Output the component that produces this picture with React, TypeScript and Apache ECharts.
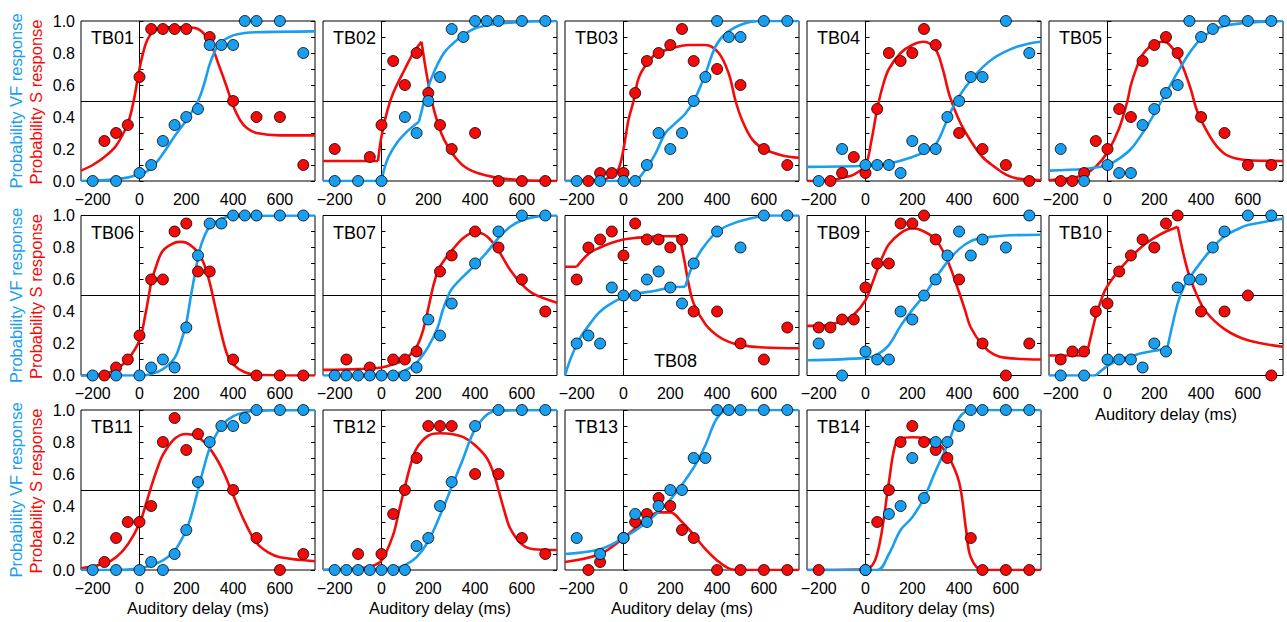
import React, { useEffect, useRef } from "react";
import * as echarts from "echarts";

type P = [number, number];

const X_LABELS = [-200, 0, 200, 400, 600];
const Y_LABELS = [0, 0.2, 0.4, 0.6, 0.8, 1.0];
const X_TITLE = "Auditory delay (ms)";
const VF_TITLE = "Probability VF response";
const S_TITLE = "Probability S response";

// ---- TB01
const TB01_S: P[] = [[-150,0.25],[-100,0.30],[-50,0.35],[0,0.65],[50,0.95],[100,0.95],[150,0.95],[200,0.95],[300,0.90],[400,0.50],[500,0.40],[600,0.40],[700,0.10]];
const TB01_VF: P[] = [[-200,0],[-100,0],[0,0.05],[50,0.10],[100,0.25],[150,0.35],[200,0.40],[250,0.45],[300,0.85],[350,0.85],[400,0.85],[450,1],[500,1],[600,1],[700,0.80]];
const TB01_S_FIT: P[][] = [[[-250,0.065],[-200,0.10],[-150,0.15],[-100,0.22],[-50,0.36],[-25,0.5],[0,0.7],[25,0.85],[50,0.92],[100,0.96],[200,0.96],[250,0.95],[300,0.87],[340,0.72],[370,0.6],[400,0.47],[430,0.38],[460,0.33],[500,0.30],[600,0.285],[750,0.285]]];
const TB01_VF_FIT: P[][] = [[[-250,0],[-100,0.01],[0,0.04],[50,0.08],[100,0.17],[150,0.28],[200,0.38],[250,0.50],[275,0.60],[300,0.73],[325,0.82],[350,0.87],[400,0.91],[450,0.925],[500,0.93],[750,0.935]]];

// ---- TB02
const TB02_S: P[] = [[-200,0.20],[-50,0.15],[0,0.35],[50,0.75],[100,0.60],[150,0.80],[200,0.55],[250,0.35],[300,0.20],[400,0.30],[500,0],[600,0],[700,0]];
const TB02_VF: P[] = [[-200,0],[-100,0],[0,0],[100,0.40],[150,0.30],[200,0.50],[250,0.65],[300,0.95],[350,0.90],[400,1],[450,1],[500,1],[600,1],[700,1]];
const TB02_S_FIT: P[][] = [[[-250,0.125],[-15,0.125]],[[-15,0.125],[0,0.28],[25,0.44],[50,0.55],[100,0.70],[140,0.81],[171,0.87]],[[171,0.87],[195,0.65],[225,0.44],[267,0.26],[338,0.11],[410,0.05],[550,0.01],[750,0]]];
const TB02_VF_FIT: P[][] = [[[-250,0],[0,0]],[[0,0],[24,0.13],[67,0.24],[110,0.31],[160,0.37]],[[160,0.37],[181,0.49],[210,0.63],[267,0.80],[339,0.90],[410,0.96],[553,0.99],[750,1]]];

// ---- TB03
const TB03_S: P[] = [[-150,0],[-100,0.05],[-50,0.05],[0,0.05],[50,0.55],[100,0.75],[150,0.80],[200,0.85],[250,0.95],[300,0.75],[400,0.70],[500,0.60],[600,0.20],[700,0.10]];
const TB03_VF: P[] = [[-200,0],[-100,0],[0,0],[50,0],[100,0.10],[150,0.30],[200,0.20],[250,0.30],[300,0.50],[350,0.65],[400,1],[450,0.90],[500,0.90],[600,1],[700,1]];
const TB03_S_FIT: P[][] = [[[-250,0],[-100,0.005],[-50,0.03],[-20,0.08],[0,0.2],[21,0.38],[43,0.5],[64,0.64],[93,0.72],[136,0.79],[207,0.83],[279,0.85],[350,0.85],[407,0.8],[450,0.67],[479,0.5],[507,0.38],[550,0.26],[600,0.20],[679,0.16],[750,0.145]]];
const TB03_VF_FIT: P[][] = [[[-250,0],[0,0],[50,0.005],[93,0.07],[136,0.17],[179,0.30],[221,0.36],[264,0.42],[307,0.52],[350,0.67],[393,0.84],[436,0.92],[507,0.98],[593,1],[750,1]]];

// ---- TB04
const TB04_S: P[] = [[-150,0],[-100,0.05],[-50,0.15],[0,0.05],[50,0.45],[100,0.80],[150,0.75],[200,0.80],[250,0.95],[300,0.85],[400,0.30],[500,0.20],[600,0.10],[700,0]];
const TB04_VF: P[] = [[-200,0],[-100,0.20],[0,0.10],[50,0.10],[100,0.10],[150,0.05],[200,0.25],[250,0.20],[300,0.20],[350,0.40],[400,0.50],[450,0.65],[500,0.65],[600,1],[700,0.80]];
const TB04_S_FIT: P[][] = [[[-250,0],[-150,0.005],[-100,0.02],[-50,0.04],[0,0.10],[25,0.25],[50,0.45],[75,0.6],[100,0.7],[150,0.8],[200,0.85],[250,0.87],[300,0.82],[330,0.70],[360,0.53],[400,0.38],[450,0.25],[500,0.15],[550,0.09],[600,0.04],[650,0.015],[750,0.005]]];
const TB04_VF_FIT: P[][] = [[[-250,0.088],[0,0.095],[100,0.11],[200,0.15],[250,0.18],[300,0.23],[340,0.35],[370,0.45],[400,0.53],[450,0.63],[500,0.71],[550,0.77],[600,0.81],[650,0.84],[700,0.86],[750,0.87]]];

// ---- TB05
const TB05_S: P[] = [[-200,0],[-150,0],[-100,0.05],[-50,0.25],[0,0.20],[50,0.45],[100,0.40],[150,0.75],[200,0.85],[250,0.90],[300,0.80],[400,0.40],[500,0.30],[600,0.10],[700,0.10]];
const TB05_VF: P[] = [[-200,0.20],[-100,0],[0,0.10],[50,0.05],[100,0.05],[150,0.35],[200,0.45],[250,0.55],[300,0.60],[350,1],[400,0.90],[450,0.95],[500,1],[600,1],[700,1]];
const TB05_S_FIT: P[][] = [[[-250,0.005],[-150,0.02],[-100,0.04],[-50,0.09],[0,0.18],[50,0.33],[85,0.5],[100,0.6],[125,0.71],[150,0.79],[200,0.86],[240,0.87],[300,0.78],[350,0.6],[380,0.45],[400,0.38],[450,0.25],[500,0.17],[550,0.14],[600,0.13],[750,0.125]]];
const TB05_VF_FIT: P[][] = [[[-250,0.065],[-100,0.075],[-50,0.085],[0,0.10],[50,0.14],[100,0.20],[150,0.30],[200,0.42],[250,0.55],[300,0.68],[350,0.80],[400,0.89],[450,0.94],[500,0.97],[600,0.99],[750,1]]];

// ---- TB06
const TB06_S: P[] = [[-150,0],[-100,0.05],[-50,0.10],[0,0.25],[50,0.60],[100,0.60],[150,0.90],[200,0.95],[250,0.65],[300,0.65],[400,0.10],[500,0],[600,0],[700,0]];
const TB06_VF: P[] = [[-200,0],[-100,0],[0,0],[50,0.05],[100,0.10],[150,0.05],[200,0.30],[250,0.75],[300,0.95],[350,0.95],[400,1],[450,1],[500,1],[600,1],[700,1]];
const TB06_S_FIT: P[][] = [[[-250,0],[-150,0.01],[-100,0.04],[-50,0.10],[0,0.22],[25,0.38],[40,0.5],[50,0.58],[75,0.70],[100,0.78],[150,0.83],[175,0.835],[200,0.83],[250,0.77],[275,0.70],[300,0.58],[325,0.42],[350,0.26],[375,0.13],[400,0.07],[450,0.02],[500,0.005],[750,0]]];
const TB06_VF_FIT: P[][] = [[[-250,0],[0,0],[50,0.01],[100,0.04],[150,0.11],[175,0.2],[200,0.33],[220,0.5],[240,0.66],[260,0.80],[280,0.88],[300,0.93],[350,0.98],[400,0.995],[750,1]]];

// ---- TB07
const TB07_S: P[] = [[-150,0.10],[-50,0.05],[50,0.10],[100,0.10],[150,0.15],[250,0.65],[300,0.75],[400,0.90],[500,0.80],[600,0.60],[700,0.40]];
const TB07_VF: P[] = [[-200,0],[-150,0],[-100,0],[-50,0],[0,0],[50,0],[100,0],[150,0.05],[200,0.35],[250,0.25],[300,0.45],[400,0.70],[500,0.90],[600,1],[700,1]];
const TB07_S_FIT: P[][] = [[[-250,0.035],[-100,0.04],[0,0.05],[50,0.07],[100,0.10],[150,0.18],[175,0.27],[200,0.42],[225,0.58],[250,0.68],[300,0.78],[350,0.86],[400,0.895],[450,0.87],[500,0.78],[550,0.66],[600,0.57],[650,0.51],[750,0.455]]];
const TB07_VF_FIT: P[][] = [[[-250,0],[0,0.005],[50,0.01],[100,0.03],[150,0.08],[200,0.18],[240,0.30],[260,0.40],[280,0.48],[300,0.54],[350,0.62],[400,0.69],[450,0.77],[500,0.86],[550,0.93],[600,0.97],[650,0.99],[750,1]]];

// ---- TB08
const TB08_S: P[] = [[-200,0.60],[-150,0.80],[-100,0.85],[-50,0.90],[0,0.75],[50,0.95],[100,0.85],[150,0.85],[200,0.80],[250,0.85],[300,0.40],[400,0.40],[500,0.20],[600,0.10],[700,0.30]];
const TB08_VF: P[] = [[-200,0.20],[-150,0.25],[-100,0.20],[-50,0.55],[0,0.50],[50,0.50],[100,0.60],[150,0.65],[200,0.55],[250,0.45],[300,0.70],[400,0.90],[500,0.80],[600,1],[700,1]];
const TB08_S_FIT: P[][] = [[[-250,0.68],[-200,0.68]],[[-200,0.68],[-150,0.76],[-100,0.80],[-50,0.83],[0,0.85],[50,0.86],[100,0.865],[150,0.87],[240,0.87]],[[240,0.87],[260,0.72],[280,0.56],[300,0.45],[350,0.32],[400,0.25],[450,0.21],[500,0.19],[600,0.175],[750,0.17]]];
const TB08_VF_FIT: P[][] = [[[-250,0],[-230,0.09],[-207,0.17],[-179,0.25],[-150,0.31],[-107,0.39],[-64,0.44],[0,0.49],[50,0.51],[136,0.53],[200,0.55],[264,0.555]],[[264,0.555],[293,0.68],[336,0.79],[393,0.89],[450,0.94],[536,0.98],[636,1],[750,1]]];

// ---- TB09
const TB09_S: P[] = [[-200,0.30],[-150,0.30],[-100,0.35],[-50,0.35],[0,0.55],[50,0.70],[100,0.70],[150,0.95],[200,0.95],[250,1],[300,0.85],[400,0.60],[500,0.20],[600,0],[700,0.20]];
const TB09_VF: P[] = [[-200,0.20],[-100,0],[0,0.15],[50,0.10],[100,0.10],[150,0.40],[200,0.35],[250,0.50],[300,0.60],[350,0.75],[400,0.90],[450,0.75],[500,0.85],[600,0.80],[700,1]];
const TB09_S_FIT: P[][] = [[[-250,0.31],[-200,0.31],[-150,0.32],[-100,0.34],[-50,0.38],[0,0.47],[25,0.56],[50,0.66],[75,0.75],[100,0.82],[150,0.89],[200,0.92],[250,0.90],[300,0.85],[350,0.72],[400,0.52],[425,0.41],[450,0.30],[500,0.19],[550,0.13],[600,0.11],[750,0.10]]];
const TB09_VF_FIT: P[][] = [[[-250,0.095],[0,0.11],[50,0.13],[100,0.19],[150,0.31],[200,0.41],[250,0.50],[300,0.61],[350,0.71],[400,0.79],[450,0.84],[500,0.86],[600,0.875],[750,0.88]]];

// ---- TB10
const TB10_S: P[] = [[-200,0.10],[-150,0.15],[-100,0.15],[-50,0.40],[0,0.45],[50,0.65],[100,0.75],[150,0.85],[200,0.80],[250,0.95],[300,1],[400,0.40],[500,0.40],[600,0.50],[700,0]];
const TB10_VF: P[] = [[-200,0],[-100,0],[0,0.10],[50,0.10],[100,0.10],[150,0.05],[200,0.20],[250,0.15],[300,0.55],[350,0.60],[400,0.60],[450,0.80],[500,0.90],[600,1],[700,1]];
const TB10_S_FIT: P[][] = [[[-250,0.125],[-90,0.125]],[[-90,0.125],[-70,0.25],[-50,0.37],[-20,0.50],[0,0.56],[50,0.66],[100,0.74],[150,0.81],[200,0.86],[250,0.90],[300,0.93]],[[300,0.93],[340,0.67],[380,0.51],[420,0.40],[500,0.29],[600,0.22],[750,0.18]]];
const TB10_VF_FIT: P[][] = [[[-250,0],[-50,0]],[[-50,0],[0,0.06],[50,0.10],[100,0.12],[150,0.14],[200,0.155],[255,0.165]],[[255,0.165],[275,0.30],[300,0.45],[325,0.55],[350,0.61],[400,0.71],[450,0.80],[500,0.87],[550,0.91],[600,0.94],[750,0.98]]];

// ---- TB11
const TB11_S: P[] = [[-150,0.05],[-100,0.20],[-50,0.30],[0,0.30],[50,0.40],[100,0.80],[150,0.95],[200,0.75],[250,0.85],[400,0.50],[500,0.20],[600,0],[700,0.10]];
const TB11_VF: P[] = [[-200,0],[-100,0],[0,0],[50,0.05],[100,0],[150,0.10],[200,0.25],[250,0.55],[300,0.80],[350,0.90],[400,0.90],[450,0.95],[500,1],[600,1],[700,1]];
const TB11_S_FIT: P[][] = [[[-250,0.01],[-150,0.04],[-100,0.08],[-50,0.16],[0,0.29],[25,0.40],[50,0.52],[75,0.63],[100,0.72],[150,0.82],[200,0.85],[250,0.83],[300,0.76],[350,0.64],[400,0.47],[450,0.30],[500,0.17],[550,0.11],[600,0.08],[750,0.055]]];
const TB11_VF_FIT: P[][] = [[[-250,0],[-100,0],[0,0.01],[50,0.03],[100,0.06],[150,0.12],[200,0.25],[225,0.36],[250,0.50],[275,0.64],[300,0.76],[350,0.90],[400,0.96],[450,0.985],[500,0.995],[750,1]]];

// ---- TB12
const TB12_S: P[] = [[-100,0.10],[0,0.10],[50,0.35],[100,0.50],[150,0.70],[200,0.90],[250,0.90],[300,0.90],[400,0.60],[500,0.60],[600,0.20],[700,0.10]];
const TB12_VF: P[] = [[-200,0],[-150,0],[-100,0],[-50,0],[0,0],[50,0],[100,0],[150,0.15],[200,0.20],[250,0.40],[300,0.55],[400,0.90],[500,1],[600,1],[700,1]];
const TB12_S_FIT: P[][] = [[[-250,0],[-100,0.01],[-50,0.02],[0,0.06],[50,0.22],[75,0.37],[100,0.52],[125,0.66],[150,0.76],[200,0.84],[250,0.855],[300,0.85],[350,0.83],[400,0.78],[450,0.70],[480,0.60],[500,0.50],[525,0.37],[550,0.26],[600,0.16],[650,0.13],[750,0.125]]];
const TB12_VF_FIT: P[][] = [[[-250,0],[0,0.005],[50,0.01],[100,0.03],[150,0.08],[200,0.18],[250,0.34],[300,0.52],[350,0.70],[375,0.80],[400,0.88],[450,0.97],[500,0.995],[750,1]]];

// ---- TB13
const TB13_S: P[] = [[-150,0],[-100,0.05],[0,0.20],[50,0.30],[100,0.35],[150,0.45],[200,0.40],[250,0.25],[300,0.20],[400,0],[500,0],[600,0],[700,0]];
const TB13_VF: P[] = [[-200,0.20],[-100,0.10],[0,0.20],[50,0.35],[100,0.30],[150,0.40],[200,0.50],[250,0.50],[300,0.70],[350,0.70],[400,1],[450,1],[500,1],[600,1],[700,1]];
const TB13_S_FIT: P[][] = [[[-250,0.05],[-100,0.10],[0,0.20],[100,0.32],[150,0.36],[200,0.36],[250,0.30],[300,0.22],[350,0.13],[400,0.06],[450,0.01],[500,0],[750,0]]];
const TB13_VF_FIT: P[][] = [[[-250,0.10],[-100,0.13],[0,0.20],[100,0.30],[200,0.44],[300,0.64],[350,0.78],[400,0.95],[450,1],[750,1]]];

// ---- TB14
const TB14_S: P[] = [[-200,0],[0,0],[50,0.30],[100,0.50],[150,0.80],[200,0.90],[250,0.80],[300,0.75],[350,0.70],[450,0.20],[500,0],[600,0],[700,0]];
const TB14_VF: P[] = [[0,0],[100,0.35],[150,0.40],[200,0.70],[250,0.45],[300,0.80],[350,0.80],[400,0.90],[450,1],[500,1],[600,1],[700,1]];
const TB14_S_FIT: P[][] = [[[-250,0],[0,0.005],[50,0.1],[100,0.55],[125,0.77],[150,0.82],[200,0.83],[300,0.80],[350,0.72],[400,0.55],[430,0.25],[450,0.08],[500,0],[750,0]]];
const TB14_VF_FIT: P[][] = [[[-250,0],[50,0],[100,0.1],[150,0.25],[200,0.33],[250,0.45],[300,0.62],[350,0.78],[400,0.95],[450,1],[750,1]]];

const PANELS = [
  { name: "TB01", s: TB01_S, vf: TB01_VF, sFit: TB01_S_FIT, vfFit: TB01_VF_FIT },
  { name: "TB02", s: TB02_S, vf: TB02_VF, sFit: TB02_S_FIT, vfFit: TB02_VF_FIT },
  { name: "TB03", s: TB03_S, vf: TB03_VF, sFit: TB03_S_FIT, vfFit: TB03_VF_FIT },
  { name: "TB04", s: TB04_S, vf: TB04_VF, sFit: TB04_S_FIT, vfFit: TB04_VF_FIT },
  { name: "TB05", s: TB05_S, vf: TB05_VF, sFit: TB05_S_FIT, vfFit: TB05_VF_FIT },
  { name: "TB06", s: TB06_S, vf: TB06_VF, sFit: TB06_S_FIT, vfFit: TB06_VF_FIT },
  { name: "TB07", s: TB07_S, vf: TB07_VF, sFit: TB07_S_FIT, vfFit: TB07_VF_FIT },
  { name: "TB08", s: TB08_S, vf: TB08_VF, sFit: TB08_S_FIT, vfFit: TB08_VF_FIT },
  { name: "TB09", s: TB09_S, vf: TB09_VF, sFit: TB09_S_FIT, vfFit: TB09_VF_FIT },
  { name: "TB10", s: TB10_S, vf: TB10_VF, sFit: TB10_S_FIT, vfFit: TB10_VF_FIT },
  { name: "TB11", s: TB11_S, vf: TB11_VF, sFit: TB11_S_FIT, vfFit: TB11_VF_FIT },
  { name: "TB12", s: TB12_S, vf: TB12_VF, sFit: TB12_S_FIT, vfFit: TB12_VF_FIT },
  { name: "TB13", s: TB13_S, vf: TB13_VF, sFit: TB13_S_FIT, vfFit: TB13_VF_FIT },
  { name: "TB14", s: TB14_S, vf: TB14_VF, sFit: TB14_S_FIT, vfFit: TB14_VF_FIT },
];

const RED = "#f50a0a";
const BLUE = "#1a9ef0";
const FONT = '"Liberation Sans", Arial, Helvetica, sans-serif';
const COL_LEFT = [81, 323, 565, 807, 1049];
const ROW_TOP = [21, 215.5, 410];
const PW = 234;
const PH = 160;

function fmtNum(v: number) {
  return v < 0 ? "\u2212" + Math.abs(v) : String(v);
}

function buildOption() {
  const grid: any[] = [];
  const xAxis: any[] = [];
  const yAxis: any[] = [];
  const series: any[] = [];
  const graphic: any[] = [];

  PANELS.forEach((p, i) => {
    const row = Math.floor(i / 5);
    const col = i % 5;
    const left = COL_LEFT[col];
    const top = ROW_TOP[row];
    grid.push({ left, top, width: PW, height: PH, show: true, borderColor: "#000", borderWidth: 1, backgroundColor: "transparent" });
    xAxis.push({
      type: "value", gridIndex: i, min: -250, max: 750, interval: 50,
      axisLine: { show: false }, axisTick: { show: false }, splitLine: { show: false },
      axisLabel: {
        interval: 0, margin: 10, fontSize: 16, color: "#000", fontFamily: FONT,
        formatter: (v: number) => (X_LABELS.indexOf(Math.round(v)) >= 0 ? fmtNum(Math.round(v)) : ""),
      },
    });
    yAxis.push({
      type: "value", gridIndex: i, min: 0, max: 1, interval: 0.1, position: "left",
      axisLine: { show: false },
      axisTick: { show: true, inside: true, length: 4, lineStyle: { color: "#000", width: 1 } },
      splitLine: { show: false },
      axisLabel: {
        show: col === 0, interval: 0, margin: 6, fontSize: 16, color: "#000", fontFamily: FONT,
        formatter: (v: number) => {
          const k = Math.round(v * 10);
          return Y_LABELS.some((t) => Math.round(t * 10) === k) ? (k / 10).toFixed(1) : "";
        },
      },
    });
    yAxis.push({
      type: "value", gridIndex: i, min: 0, max: 1, interval: 0.1, position: "right",
      axisLine: { show: false },
      axisTick: { show: true, inside: true, length: 4, lineStyle: { color: "#000", width: 1 } },
      splitLine: { show: false }, axisLabel: { show: false },
    });
    const yi = i * 2;
    let first = true;
    const addFit = (segs: P[][], color: string) => {
      segs.forEach((seg) => {
        const s: any = {
          type: "line", xAxisIndex: i, yAxisIndex: yi, data: seg, smooth: 0.35,
          symbol: "none", lineStyle: { color, width: 2.6 }, z: 3, silent: true,
        };
        if (first) {
          s.markLine = {
            silent: true, symbol: ["none", "none"], label: { show: false },
            lineStyle: { color: "#000", width: 1, type: "solid" },
            data: [{ yAxis: 0.5 }, { xAxis: 0 }], z: 1,
          };
          first = false;
        }
        series.push(s);
      });
    };
    addFit(p.sFit, RED);
    addFit(p.vfFit, BLUE);
    series.push({
      type: "scatter", xAxisIndex: i, yAxisIndex: yi, data: p.s, symbol: "circle", symbolSize: 11,
      itemStyle: { color: RED, borderColor: "#000", borderWidth: 0.8, opacity: 1 }, z: 4, silent: true,
    });
    series.push({
      type: "scatter", xAxisIndex: i, yAxisIndex: yi, data: p.vf, symbol: "circle", symbolSize: 11,
      itemStyle: { color: BLUE, borderColor: "#000", borderWidth: 0.8, opacity: 1 }, z: 5, silent: true,
    });

    const isBottomLabel = p.name === "TB08";
    graphic.push({
      type: "text",
      x: isBottomLabel ? left + 89 : left + 10,
      y: isBottomLabel ? top + 145 : top + 17,
      style: { text: p.name, fill: "#000", font: `18px ${FONT}`, align: "left", verticalAlign: "middle" },
      z: 10,
    });
    const hasXTitle = row === 2 || (row === 1 && col === 4);
    if (hasXTitle) {
      graphic.push({
        type: "text", x: left + PW / 2, y: top + PH + 38,
        style: { text: X_TITLE, fill: "#000", font: `16.5px ${FONT}`, align: "center", verticalAlign: "middle" },
      });
    }
    if (col === 0) {
      const cy = top + PH / 2;
      graphic.push({
        type: "text", x: 16, y: cy, rotation: Math.PI / 2,
        style: { text: VF_TITLE, fill: BLUE, font: `16.5px ${FONT}`, align: "center", verticalAlign: "middle" },
      });
      graphic.push({
        type: "text", x: 36, y: cy + 1, rotation: Math.PI / 2,
        style: { text: S_TITLE, fill: RED, font: `16.5px ${FONT}`, align: "center", verticalAlign: "middle" },
      });
    }
  });

  return { animation: false, backgroundColor: "#fff", grid, xAxis, yAxis, series, graphic };
}

export default function App() {
  const ref = useRef<HTMLDivElement>(null);
  useEffect(() => {
    if (!ref.current) return;
    const chart = echarts.init(ref.current, undefined, { renderer: "svg" });
    chart.setOption(buildOption() as any);
    return () => chart.dispose();
  }, []);
  return (
    <div
      ref={ref}
      style={{ position: "fixed", left: 0, top: 0, width: 1287, height: 622, background: "#fff" }}
    />
  );
}
